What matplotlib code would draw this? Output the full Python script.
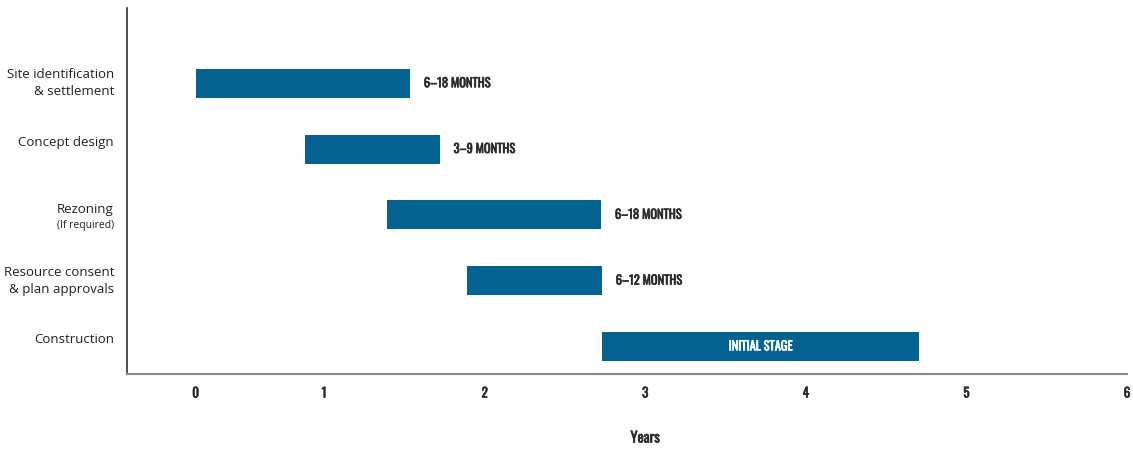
import matplotlib
matplotlib.use("Agg")
import matplotlib.pyplot as plt
import matplotlib.transforms as mtransforms
import matplotlib.patheffects as pe
from matplotlib import font_manager

# ---------------------------
# DATA (years)
# ---------------------------
stages = [
    "Site identification\n& settlement",
    "Concept design",
    "Rezoning",
    "Resource consent\n& plan approvals",
    "Construction",
]
stage_notes = ["", "", "(If required)", "", ""]
start_years = [0.20, 0.88, 1.39, 1.89, 2.73]
end_years = [1.535, 1.72, 2.725, 2.73, 4.705]
duration_labels = ["6–18 MONTHS", "3–9 MONTHS", "6–18 MONTHS", "6–12 MONTHS", "INITIAL STAGE"]
inside_label = [False, False, False, False, True]

tick_pos = [0.2, 1, 2, 3, 4, 5, 6]
tick_labels = ["0", "1", "2", "3", "4", "5", "6"]

BAR_COLOR = "#03628f"
TEXT_DARK = "#231f20"
LABEL_GREY = "#2b2b2b"


def first_font(candidates):
    names = {f.name for f in font_manager.fontManager.ttflist}
    for c in candidates:
        if c in names:
            return c
    return "DejaVu Sans"


NARROW = first_font(["Oswald", "Roboto Condensed", "Barlow Condensed", "Archivo Narrow",
                     "Liberation Sans Narrow", "Liberation Sans"])
BODY = first_font(["Open Sans", "Noto Sans"])


def heavy(color):
    # thicken the narrow face a little
    return [pe.withStroke(linewidth=0.45, foreground=color)]


fig = plt.figure(figsize=(11.33, 4.5), dpi=100)
ax = fig.add_axes([127 / 1133, 1 - 374 / 450, 1000 / 1133, 366 / 450])

rows = list(range(len(stages)))
widths = [e - s for s, e in zip(start_years, end_years)]
ax.barh(rows, widths, left=start_years, height=0.44, color=BAR_COLOR)

ax.set_xlim(-0.227, 6.0)
ax.set_ylim(4.42, -1.144)

for spine in ["top", "right"]:
    ax.spines[spine].set_visible(False)
ax.spines["left"].set_color("#333333")
ax.spines["left"].set_linewidth(1.2)
ax.spines["bottom"].set_color("#8a8a8a")
ax.spines["bottom"].set_linewidth(1.5)

ax.set_xticks(tick_pos)
ax.set_xticklabels(tick_labels, fontfamily=NARROW, fontweight="bold",
                   fontsize=9.5, color=LABEL_GREY)
for t in ax.get_xticklabels():
    t.set_path_effects(heavy(LABEL_GREY))
ax.tick_params(axis="x", length=0, pad=9)
ax.set_yticks([])

ax.text(3, -0.175, "Years", transform=mtransforms.blended_transform_factory(ax.transData, ax.transAxes),
        ha="center", va="center", fontfamily=NARROW, fontweight="bold",
        fontsize=10.5, color=LABEL_GREY, path_effects=heavy(LABEL_GREY))

# stage names on the left
ylab = mtransforms.blended_transform_factory(ax.transAxes, ax.transData)
for r, name, note in zip(rows, stages, stage_notes):
    if note:
        ax.annotate(name, (-0.013, r), xycoords=ylab, xytext=(0, 4), textcoords="offset points",
                    ha="right", va="center", fontfamily=BODY, fontsize=9.5, color=TEXT_DARK,
                    annotation_clip=False)
        ax.annotate(note, (-0.013, r), xycoords=ylab, xytext=(0, -8), textcoords="offset points",
                    ha="right", va="center", fontfamily=BODY, fontsize=7.5, color=TEXT_DARK,
                    annotation_clip=False)
    else:
        nudge = 0 if "\n" in name else 5
        ax.annotate(name, (-0.013, r), xycoords=ylab, xytext=(0, nudge), textcoords="offset points",
                    ha="right", va="center", fontfamily=BODY, fontsize=9.5, color=TEXT_DARK,
                    linespacing=1.4, annotation_clip=False)

# duration labels
for r, s, e, lab, inside in zip(rows, start_years, end_years, duration_labels, inside_label):
    if inside:
        ax.text((s + e) / 2, r, lab, ha="center", va="center", color="white",
                fontfamily=NARROW, fontweight="bold", fontsize=9, path_effects=heavy("white"))
    else:
        ax.annotate(lab, (e, r), xytext=(10, 0), textcoords="offset points",
                    ha="left", va="center", color=LABEL_GREY,
                    fontfamily=NARROW, fontweight="bold", fontsize=9,
                    path_effects=heavy(LABEL_GREY))

fig.savefig("out.png", dpi=100)
